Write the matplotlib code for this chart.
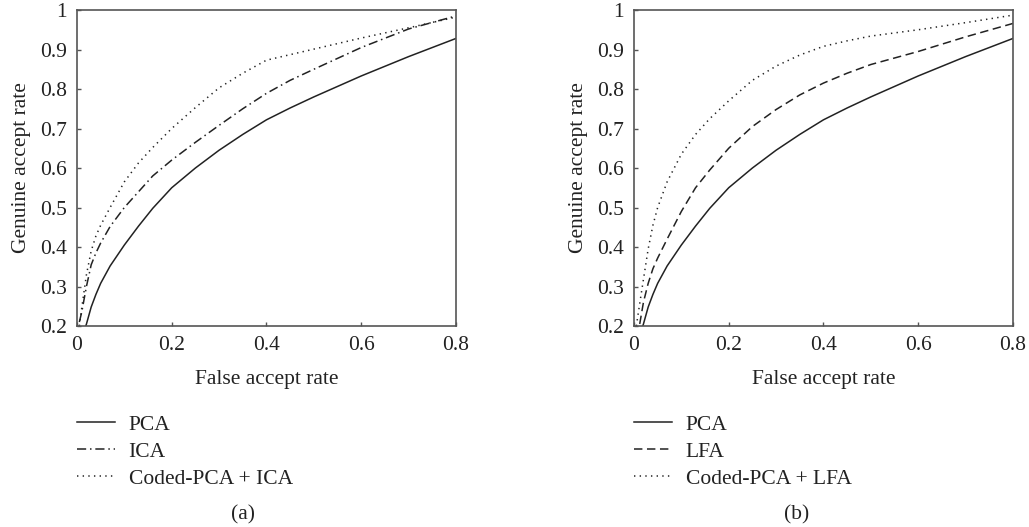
import matplotlib
matplotlib.use("Agg")
import matplotlib.pyplot as plt
from matplotlib.ticker import FuncFormatter

# False accept rate grid (shared by all curves)
far = [0.005, 0.01, 0.02, 0.03, 0.04, 0.05, 0.07, 0.1, 0.13, 0.16, 0.2,
       0.25, 0.3, 0.35, 0.4, 0.45, 0.5, 0.6, 0.7, 0.8]

# Genuine accept rate
pca = [0.12, 0.17, 0.205, 0.248, 0.28, 0.308, 0.352, 0.405, 0.453, 0.498, 0.55,
       0.60, 0.645, 0.685, 0.722, 0.752, 0.78, 0.833, 0.882, 0.928]
ica = [0.21, 0.235, 0.30, 0.355, 0.385, 0.41, 0.452, 0.50, 0.54, 0.58, 0.62,
       0.665, 0.708, 0.75, 0.789, 0.822, 0.85, 0.905, 0.952, 0.985]
coded_ica = [0.20, 0.245, 0.33, 0.39, 0.428, 0.455, 0.50, 0.565, 0.613, 0.652, 0.70,
             0.753, 0.803, 0.84, 0.873, 0.887, 0.901, 0.929, 0.955, 0.982]
lfa = [0.14, 0.19, 0.26, 0.308, 0.345, 0.372, 0.42, 0.49, 0.55, 0.595, 0.65,
       0.705, 0.748, 0.785, 0.815, 0.84, 0.862, 0.895, 0.932, 0.966]
coded_lfa = [0.20, 0.24, 0.318, 0.395, 0.455, 0.50, 0.565, 0.635, 0.685, 0.725, 0.77,
             0.822, 0.858, 0.886, 0.908, 0.922, 0.934, 0.95, 0.968, 0.987]

x_ticks = [0, 0.2, 0.4, 0.6, 0.8]
y_ticks = [0.2, 0.3, 0.4, 0.5, 0.6, 0.7, 0.8, 0.9, 1.0]

plt.rcParams['font.family'] = ['Liberation Serif', 'DejaVu Serif']
plt.rcParams['font.size'] = 15.5

line_col = '#222222'
spine_col = '#555555'

fig = plt.figure(figsize=(10.29, 5.27), dpi=100)
ax_a = fig.add_axes([0.0748, 0.3814, 0.3683, 0.5996])
ax_b = fig.add_axes([0.6161, 0.3814, 0.3683, 0.5996])


def fmt(v, pos):
    return ('%g' % round(v, 2))


panels = [
    (ax_a, [(pca, 'PCA', None),
            (ica, 'ICA', (6, 2.5, 1, 2.5)),
            (coded_ica, 'Coded-PCA + ICA', (0.9, 2.8))], '(a)', 243),
    (ax_b, [(pca, 'PCA', None),
            (lfa, 'LFA', (5.5, 3)),
            (coded_lfa, 'Coded-PCA + LFA', (0.9, 2.8))], '(b)', 797),
]

for ax, series, tag, tag_x in panels:
    for vals, name, dashes in series:
        ln, = ax.plot(far, vals, color=line_col, lw=1.1, label=name)
        if dashes is not None:
            ln.set_dashes(dashes)
    ax.set_xlim(0, 0.8)
    ax.set_ylim(0.2, 1.0)
    ax.set_xticks(x_ticks)
    ax.set_yticks(y_ticks)
    ax.xaxis.set_major_formatter(FuncFormatter(fmt))
    ax.yaxis.set_major_formatter(FuncFormatter(fmt))
    ax.tick_params(direction='in', length=3, width=1, color=spine_col,
                   labelcolor='#222222', pad=7)
    for s in ax.spines.values():
        s.set_color(spine_col)
        s.set_linewidth(1.2)
    ax.set_xlabel('False accept rate', labelpad=11, color='#222222')
    ax.set_ylabel('Genuine accept rate', labelpad=7, color='#222222')
    ax.legend(loc='upper left', bbox_to_anchor=(0, -0.28), frameon=False,
              handlelength=1.75, handletextpad=0.65, labelspacing=0.33,
              borderpad=0, borderaxespad=0, labelcolor='#222222')
    fig.text(tag_x / 1029, 1 - 515 / 527, tag, ha='center', va='center',
             color='#222222')

fig.savefig('out.png', dpi=100)
